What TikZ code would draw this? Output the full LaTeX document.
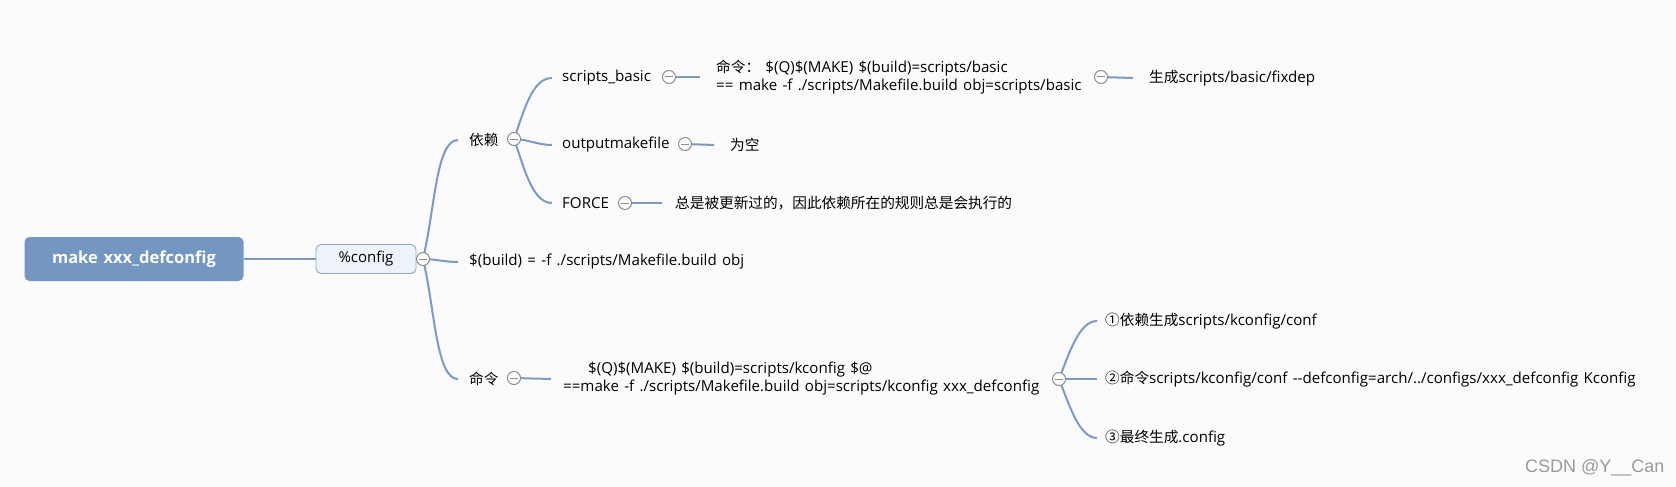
\documentclass[tikz,border=0pt]{standalone}
\usepackage{fontspec}
\setmainfont{Open Sans}[WordSpace=1.35]
\newfontfamily\cjk{Noto Sans CJK SC}[Scale=0.97]
\newfontfamily\wmfont{Liberation Sans}
\definecolor{bgc}{HTML}{FBFBFC}
\definecolor{linec}{HTML}{7B9BC6}
\definecolor{rootc}{HTML}{7497C1}
\definecolor{cfgfill}{HTML}{EEF2F9}
\definecolor{cfgdraw}{HTML}{8FA9CD}
\definecolor{foldc}{HTML}{8E8E8E}
\definecolor{wmc}{HTML}{9A9A9A}
\pgfdeclarelayer{bgl}
\pgfdeclarelayer{back}
\pgfsetlayers{bgl,back,main}
\begin{document}
\begin{tikzpicture}[x=1pt,y=-1pt,
  txt/.style={inner sep=0pt, anchor=west, font=\fontsize{15.1}{18}\selectfont, text=black},
  fold/.style={circle, draw=foldc, fill=white, line width=1pt, minimum size=13pt, inner sep=0pt,
    path picture={\draw[foldc, line width=1pt] ([xshift=-4pt]path picture bounding box.center) -- ([xshift=4pt]path picture bounding box.center);}},
  conn/.style={draw=linec, line width=2pt},
]
\begin{pgfonlayer}{bgl}
\useasboundingbox[fill=bgc] (0,0) rectangle (1676,487);
\end{pgfonlayer}

% root and %config
\node[rectangle, rounded corners=5pt, fill=rootc, minimum width=219pt, minimum height=44pt,
  text=white, font=\fontsize{16.5}{20}\selectfont\bfseries] (root) at (134,259) {make xxx\_defconfig};
\node[rectangle, rounded corners=5pt, fill=cfgfill, draw=cfgdraw, line width=0.9pt,
  minimum width=100pt, minimum height=29pt, font=\fontsize{15}{18}\selectfont] (cfg) at (366,259) {\%config};
\node[fold] (f0) at (423,259) {};

% level 1
\node[txt] (yilai) at (469,140) {\cjk 依赖};
\node[fold] (f1) at (514,139) {};
\node[txt] (build) at (469,262) {\$(build) = -f ./scripts/Makefile.build obj};
\node[txt] (ml) at (469,379) {\cjk 命令};
\node[fold] (f3) at (514,378) {};

% level 2 under 依赖
\node[txt] (sb) at (562,78) {scripts\_basic};
\node[fold] (fsb) at (669,77) {};
\node[txt] (om) at (562,145) {outputmakefile};
\node[fold] (fom) at (685,144) {};
\node[txt] (fc) at (562,203) {FORCE};
\node[fold] (ffc) at (625,203) {};

\node[txt, align=left] (sbcmd) at (716,77) {{\cjk 命令：}\ \$(Q)\$(MAKE) \$(build)=scripts/basic\\== make -f ./scripts/Makefile.build obj=scripts/basic};
\node[fold] (fsbcmd) at (1101,77) {};
\node[txt] (fixdep) at (1149,78) {{\cjk 生成}scripts/basic/fixdep};
\node[txt] (empty) at (730,145) {\cjk 为空};
\node[txt] (forcet) at (675,203) {\cjk 总是被更新过的，因此依赖所在的规则总是会执行的};

% 命令 branch
\node[txt, align=left] (kcmd) at (563,379) {\hspace*{25pt}\$(Q)\$(MAKE) \$(build)=scripts/kconfig \$@\\==make -f ./scripts/Makefile.build obj=scripts/kconfig xxx\_defconfig};
\node[fold] (fk) at (1059,379) {};
\node[txt] (k1) at (1105,321) {{\cjk ①依赖生成}scripts/kconfig/conf};
\node[txt] (k2) at (1105,379) {{\cjk ②命令}scripts/kconfig/conf -{}-defconfig=arch/../configs/xxx\_defconfig Kconfig};
\node[txt] (k3) at (1105,438) {{\cjk ③最终生成}.config};

% watermark
\node[inner sep=0pt, anchor=west, text=wmc, font=\wmfont\fontsize{18}{20}\selectfont] (wm) at (1525,468) {CSDN @Y\_\_Can};

\begin{pgfonlayer}{back}
\draw[conn] (root.east) -- (cfg.west);
\draw[conn] (f0.center) .. controls +(12,-50) and +(-22,0) .. ([xshift=-11pt]yilai.west);
\draw[conn] (f0.center) .. controls +(12,0) and +(-14,0) .. ([xshift=-11pt]build.west);
\draw[conn] (f0.center) .. controls +(12,50) and +(-22,0) .. ([xshift=-11pt]ml.west);

\draw[conn] (f1.center) .. controls +(10,-28) and +(-20,0) .. ([xshift=-10pt]sb.west);
\draw[conn] (f1.center) .. controls +(12,0) and +(-14,0) .. ([xshift=-10pt]om.west);
\draw[conn] (f1.center) .. controls +(10,28) and +(-20,0) .. ([xshift=-10pt]fc.west);

\draw[conn] (fsb.center) -- ([xshift=-16pt]sbcmd.west);
\draw[conn] (fsbcmd.center) -- ([xshift=-16pt]fixdep.west);
\draw[conn] (fom.center) -- ([xshift=-16pt]empty.west);
\draw[conn] (ffc.center) -- ([xshift=-13pt]forcet.west);
\draw[conn] (f3.center) -- ([xshift=-12pt]kcmd.west);

\draw[conn] (fk.center) .. controls +(10,-25) and +(-18,0) .. ([xshift=-8pt]k1.west);
\draw[conn] (fk.center) -- ([xshift=-8pt]k2.west);
\draw[conn] (fk.center) .. controls +(10,25) and +(-18,0) .. ([xshift=-8pt]k3.west);
\end{pgfonlayer}
\end{tikzpicture}
\end{document}
